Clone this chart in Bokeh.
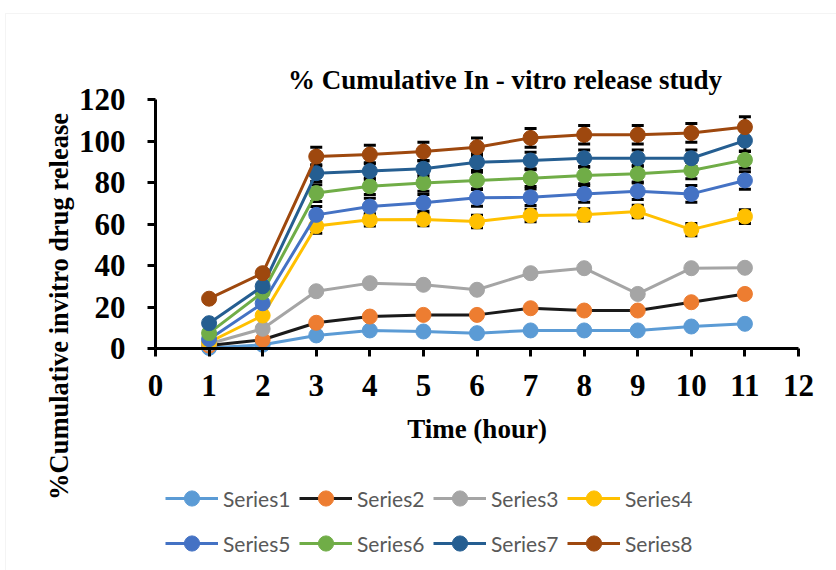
import math
from bokeh.plotting import figure
from bokeh.models import (Range1d, Legend, LegendItem, Label, ColumnDataSource, Whisker, TeeHead,
                          FixedTicker, BoxAnnotation)
from bokeh.embed import file_html
from bokeh.resources import INLINE

time = [1, 2, 3, 4, 5, 6, 7, 8, 9, 10, 11]

s1 = [0.3, 1.8, 6.3, 8.7, 8.2, 7.4, 8.7, 8.7, 8.7, 10.6, 11.9]
s2 = [1.4, 4.2, 12.4, 15.4, 16.2, 16.2, 19.4, 18.3, 18.3, 22.3, 26.3]
s3 = [2.3, 9.5, 27.6, 31.5, 30.7, 28.3, 36.3, 38.7, 26.3, 38.7, 38.9]
s4 = [3.0, 15.9, 59.0, 62.0, 62.2, 61.2, 64.1, 64.4, 66.0, 57.3, 63.6]
s5 = [4.5, 21.8, 64.4, 68.4, 70.2, 72.6, 72.9, 74.5, 75.8, 74.5, 81.0]
s6 = [7.4, 27.1, 74.9, 78.2, 79.8, 81.0, 82.1, 83.4, 84.2, 85.8, 90.9]
s7 = [12.2, 30.0, 84.5, 85.5, 86.6, 89.8, 90.6, 91.7, 91.7, 91.7, 100.2]
s8 = [24.0, 36.3, 92.5, 93.5, 94.9, 97.0, 101.5, 103.0, 103.0, 103.9, 106.7]

e4 = [0, 0, 3.5, 3, 3, 3, 3, 3, 3, 3, 3.3]
e5 = [0, 0, 4, 4, 4, 4, 4, 4, 4, 4, 4.2]
e6 = [0, 0, 4, 4, 4, 4, 4, 4, 4, 4, 4]
e7 = [0, 0, 4, 4, 4, 4, 4, 4, 4, 4, 5]
e8 = [0, 0, 4.5, 4.5, 4.5, 4.5, 4.5, 4.5, 4.5, 4.5, 5]

names = ["Series1", "Series2", "Series3", "Series4", "Series5", "Series6", "Series7", "Series8"]
values = [s1, s2, s3, s4, s5, s6, s7, s8]
errors = [None, None, None, e4, e5, e6, e7, e8]
line_colors = ["#5B9BD5", "#1A1A1A", "#A5A5A5", "#FFC000", "#4472C4", "#70AD47", "#255E91", "#9E480E"]
marker_colors = ["#5B9BD5", "#ED7D31", "#A5A5A5", "#FFC000", "#4472C4", "#70AD47", "#255E91", "#9E480E"]

x_ticks = list(range(0, 13))
y_ticks = [0, 20, 40, 60, 80, 100, 120]
x_axis_span = (0, 12)
y_axis_span = (0, 120)

title_text = "% Cumulative In - vitro release study"
x_label = "Time (hour)"
y_label = "%Cumulative invitro drug release"

SERIF = "Liberation Serif"

# ---- layout (pixels): the frame covers the whole canvas; axes are placed at fixed locations ----
W, H = 836, 570
AX_L, AX_R, AX_T, AX_B = 155, 798, 99, 348   # where the axis spans sit
px_x = (AX_R - AX_L) / (x_axis_span[1] - x_axis_span[0])
px_y = (AX_B - AX_T) / (y_axis_span[1] - y_axis_span[0])

def X(px):
    return x_axis_span[0] + (px - AX_L) / px_x

def Y(py):
    return y_axis_span[0] + (AX_B - py) / px_y

p = figure(frame_width=W, frame_height=H,
           x_range=Range1d(X(0), X(W)), y_range=Range1d(Y(H), Y(0)),
           output_backend="svg", toolbar_location=None,
           min_border_left=0, min_border_right=0, min_border_top=0, min_border_bottom=0)
p.outline_line_color = None
p.xgrid.visible = False
p.ygrid.visible = False
p.background_fill_color = "white"
p.border_fill_color = "white"
p.title.visible = False

# chart-area border
p.add_layout(BoxAnnotation(left=X(5), right=X(W + 20), top=Y(13), bottom=Y(H + 20),
                           fill_alpha=0, line_color="#D9D9D9", line_width=1, level="underlay"))

# title and y label
p.add_layout(Label(x=X(504.5), y=Y(79), text=title_text, text_align="center", text_baseline="alphabetic",
                   text_font=SERIF, text_font_style="bold", text_font_size="27px", text_color="black"))
p.add_layout(Label(x=X(58), y=Y(306), text=y_label, angle=math.pi / 2, text_align="center",
                   text_baseline="middle", text_font=SERIF, text_font_style="bold",
                   text_font_size="26.5px", text_color="black"))

for ax in (p.xaxis[0], p.yaxis[0]):
    ax.axis_line_color = "black"
    ax.axis_line_width = 3
    ax.major_tick_line_color = "black"
    ax.major_tick_line_width = 3
    ax.major_tick_out = 8
    ax.major_tick_in = 0
    ax.minor_tick_line_color = None
    ax.major_label_text_font = SERIF
    ax.major_label_text_font_style = "bold"
    ax.major_label_text_font_size = "31px"
    ax.major_label_text_color = "black"

p.xaxis[0].fixed_location = y_axis_span[0]
p.yaxis[0].fixed_location = x_axis_span[0]
p.xaxis[0].bounds = x_axis_span
p.yaxis[0].bounds = y_axis_span
p.xaxis[0].ticker = FixedTicker(ticks=x_ticks)
p.yaxis[0].ticker = FixedTicker(ticks=y_ticks)
p.xaxis[0].major_label_standoff = 18
p.yaxis[0].major_label_standoff = 22
p.xaxis[0].axis_label = x_label
p.xaxis[0].axis_label_text_font = SERIF
p.xaxis[0].axis_label_text_font_style = "bold"
p.xaxis[0].axis_label_text_font_size = "27px"
p.xaxis[0].axis_label_text_color = "black"
p.xaxis[0].axis_label_standoff = 15

# error bars (drawn beneath lines/markers)
for vals, err in zip(values, errors):
    if err is None:
        continue
    xs = [t for t, e in zip(time, err) if e > 0]
    up = [v + e for v, e in zip(vals, err) if e > 0]
    lo = [v - e for v, e in zip(vals, err) if e > 0]
    src = ColumnDataSource(dict(base=xs, upper=up, lower=lo))
    w = Whisker(source=src, base="base", upper="upper", lower="lower", dimension="height",
                line_color="black", line_width=3,
                upper_head=TeeHead(size=12, line_color="black", line_width=3),
                lower_head=TeeHead(size=12, line_color="black", line_width=3),
                level="underlay")
    p.add_layout(w)

items = []
for name, vals, lc, mc in zip(names, values, line_colors, marker_colors):
    r_line = p.line(time, vals, line_color=lc, line_width=3)
    r_pts = p.scatter(time, vals, marker="circle", size=15, fill_color=mc, line_color=mc)
    items.append(LegendItem(label=name, renderers=[r_line, r_pts]))

def make_legend(its, loc):
    return Legend(items=its, location=loc, orientation="horizontal",
                  glyph_width=53, glyph_height=38, label_standoff=5, spacing=7,
                  padding=0, margin=0, label_text_font="Lato", label_text_font_size="21px",
                  label_text_color="#595959", background_fill_alpha=0, border_line_alpha=0,
                  label_height=20, label_width=69)

# legend rows centred at y=498 and y=543, starting at x=165
p.add_layout(make_legend(items[:4], (165, H - 498 - 19)), "center")
p.add_layout(make_legend(items[4:], (165, H - 543 - 19)), "center")

open("out.html", "w").write(file_html(p, INLINE))
